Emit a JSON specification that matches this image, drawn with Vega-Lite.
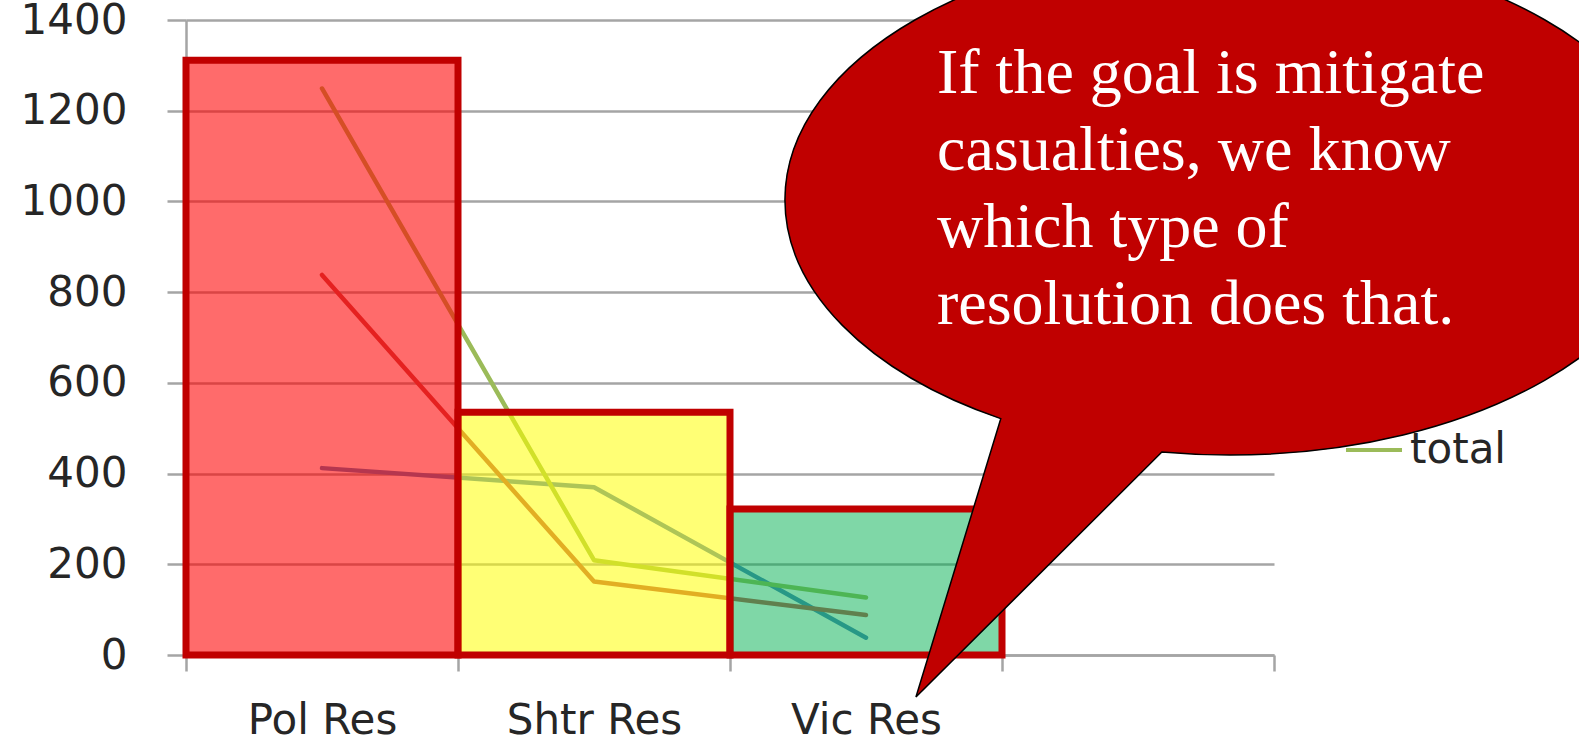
{
  "$schema": "https://vega.github.io/schema/vega-lite/v6.json",
  "width": 1088,
  "height": 635,
  "autosize": "none",
  "padding": {"left": 186, "top": 20, "right": 305, "bottom": 91},
  "background": "#FFFFFF",
  "config": {
    "view": {"stroke": null},
    "axis": {
      "domainColor": "#A5A5A5",
      "domainWidth": 2.5,
      "tickColor": "#A5A5A5",
      "tickWidth": 2.5,
      "gridColor": "#A5A5A5",
      "gridWidth": 2.5,
      "labelFont": "DejaVu Sans",
      "labelFontSize": 42,
      "labelColor": "#262626"
    },
    "axisY": {"tickSize": 19, "labelPadding": 40, "grid": true, "format": "d"},
    "axisX": {"tickSize": 16, "labelPadding": 62, "labelBaseline": "alphabetic", "grid": false, "labelAngle": 0},
    "legend": {
      "labelFont": "DejaVu Sans",
      "labelFontSize": 42,
      "labelColor": "#262626",
      "padding": 0
    }
  },
  "datasets": {
    "bars": [
      {"res": "Pol Res", "value": 1311},
      {"res": "Shtr Res", "value": 535},
      {"res": "Vic Res", "value": 322}
    ],
    "lines": [
      {"res": "Pol Res", "series": "killed", "value": 412},
      {"res": "Shtr Res", "series": "killed", "value": 370},
      {"res": "Vic Res", "series": "killed", "value": 38},
      {"res": "Pol Res", "series": "wounded", "value": 838},
      {"res": "Shtr Res", "series": "wounded", "value": 162},
      {"res": "Vic Res", "series": "wounded", "value": 88},
      {"res": "Pol Res", "series": "total", "value": 1249},
      {"res": "Shtr Res", "series": "total", "value": 209},
      {"res": "Vic Res", "series": "total", "value": 127}
    ]
  },
  "layer": [
    {
      "layer": [
        {
          "data": {"name": "lines"},
          "mark": {"type": "line", "strokeWidth": 4.5, "strokeCap": "round", "strokeJoin": "round"},
          "encoding": {
            "x": {
              "field": "res", "type": "nominal",
              "scale": {"domain": ["Pol Res", "Shtr Res", "Vic Res", " "], "paddingInner": 0, "paddingOuter": 0},
              "axis": {"title": null, "tickBand": "extent"}
            },
            "y": {
              "field": "value", "type": "quantitative",
              "scale": {"domain": [0, 1400], "nice": false},
              "axis": {"title": null, "values": [0, 200, 400, 600, 800, 1000, 1200, 1400]}
            },
            "color": {
              "field": "series", "type": "nominal",
              "scale": {"domain": ["killed", "wounded", "total"], "range": ["#4F81BD", "#C0504D", "#9BBB59"]},
              "legend": {
                "title": null,
                "values": ["total"],
                "orient": "none",
                "legendX": 1158,
                "legendY": 400,
                "symbolType": "stroke",
                "symbolSize": 3136,
                "symbolStrokeWidth": 4,
                "labelOffset": 6
              }
            }
          }
        },
        {
          "data": {"name": "bars"},
          "mark": {"type": "bar", "stroke": "#C00000", "strokeWidth": 7, "strokeOpacity": 1, "cornerRadius": 0},
          "encoding": {
            "x": {
              "field": "res", "type": "nominal",
              "scale": {"domain": ["Pol Res", "Shtr Res", "Vic Res", " "], "paddingInner": 0, "paddingOuter": 0},
              "axis": {"title": null, "tickBand": "extent"}
            },
            "y": {
              "field": "value", "type": "quantitative",
              "scale": {"domain": [0, 1400], "nice": false},
              "axis": {"title": null, "values": [0, 200, 400, 600, 800, 1000, 1200, 1400]}
            },
            "fill": {
              "field": "res", "type": "nominal",
              "scale": {"domain": ["Pol Res", "Shtr Res", "Vic Res"], "range": ["#FF0000", "#FFFF00", "#00B050"]},
              "legend": null
            },
            "fillOpacity": {
              "field": "res", "type": "nominal",
              "scale": {"domain": ["Pol Res", "Shtr Res", "Vic Res"], "range": [0.58, 0.5, 0.5]},
              "legend": null
            }
          }
        }
      ]
    },
    {
      "data": {"values": [{}]},
      "mark": {
        "type": "point",
        "shape": "M-0.7056,1.1169L-0.515,0.4912C-0.816,0.3876,-1,0.2012,-1,0C-1,-0.3165,-0.5523,-0.573,0,-0.573C0.5523,-0.573,1,-0.3165,1,0C1,0.3165,0.5523,0.573,0,0.573C-0.0512,0.573,-0.1024,0.5707,-0.153,0.5662Z",
        "size": 792100,
        "filled": true,
        "fill": "#C00000",
        "stroke": "#000000",
        "strokeWidth": 1.5,
        "opacity": 1
      },
      "encoding": {
        "x": {"datum": 3.838, "type": "quantitative", "scale": {"domain": [0, 4]}, "axis": null},
        "y": {
          "datum": 1003, "type": "quantitative",
          "scale": {"domain": [0, 1400], "nice": false},
          "axis": {"title": null, "values": [0, 200, 400, 600, 800, 1000, 1200, 1400]}
        }
      }
    },
    {
      "data": {"values": [{}]},
      "mark": {
        "type": "text",
        "text": ["If the goal is mitigate", "casualties, we know", "which type of", "resolution does that."],
        "font": "Liberation Serif",
        "fontSize": 64,
        "color": "#FFFFFF",
        "align": "left",
        "baseline": "alphabetic",
        "lineHeight": 77
      },
      "encoding": {
        "x": {"datum": 2.761, "type": "quantitative", "scale": {"domain": [0, 4]}, "axis": null},
        "y": {
          "datum": 1239, "type": "quantitative",
          "scale": {"domain": [0, 1400], "nice": false},
          "axis": {"title": null, "values": [0, 200, 400, 600, 800, 1000, 1200, 1400]}
        }
      }
    }
  ],
  "resolve": {"scale": {"x": "independent", "y": "shared"}, "axis": {"y": "shared"}}
}
